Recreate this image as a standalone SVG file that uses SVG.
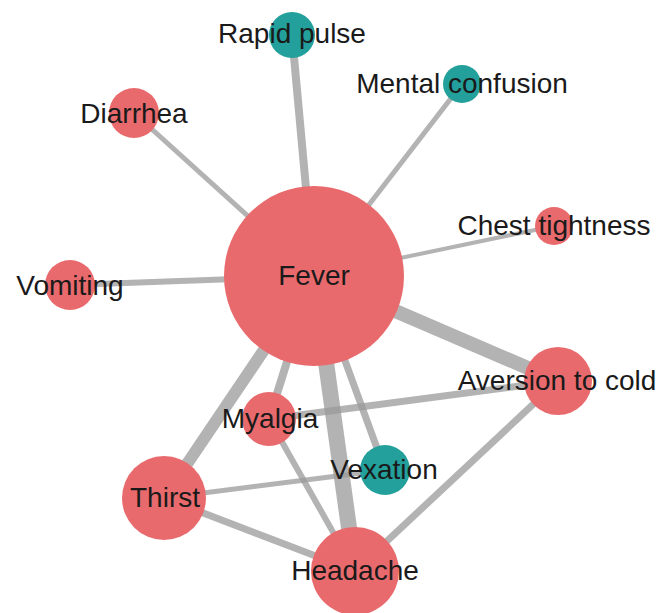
<svg xmlns="http://www.w3.org/2000/svg" width="660" height="613" viewBox="0 0 660 613">
<style>
.e{stroke:#9a9a9a;stroke-opacity:0.75;stroke-linecap:butt;fill:none}
.r{fill:#E96A6D}
.t{fill:#23A09B}
text{font-family:"Liberation Sans",Arial,sans-serif;font-size:28px;fill:#1a1a1a;text-anchor:middle}
</style>
<rect width="660" height="613" fill="#ffffff"/>
<g id="edges">
<line class="e" x1="314" y1="276" x2="292" y2="35" stroke-width="8"/>
<line class="e" x1="314" y1="276" x2="462" y2="84" stroke-width="5"/>
<line class="e" x1="314" y1="276" x2="134" y2="113" stroke-width="5"/>
<line class="e" x1="314" y1="276" x2="554" y2="226" stroke-width="4"/>
<line class="e" x1="314" y1="276" x2="70" y2="285" stroke-width="6"/>
<line class="e" x1="314" y1="276" x2="558" y2="381" stroke-width="14"/>
<line class="e" x1="314" y1="276" x2="164" y2="498" stroke-width="12"/>
<line class="e" x1="314" y1="276" x2="269" y2="419" stroke-width="8"/>
<line class="e" x1="314" y1="276" x2="355" y2="571" stroke-width="16"/>
<line class="e" x1="314" y1="276" x2="385" y2="470" stroke-width="7"/>
<line class="e" x1="269" y1="419" x2="558" y2="381" stroke-width="7"/>
<line class="e" x1="269" y1="419" x2="355" y2="571" stroke-width="6"/>
<line class="e" x1="164" y1="498" x2="385" y2="470" stroke-width="5"/>
<line class="e" x1="164" y1="498" x2="355" y2="571" stroke-width="7"/>
<line class="e" x1="558" y1="381" x2="355" y2="571" stroke-width="7"/>
</g>
<g id="fever"><circle class="r" cx="314" cy="276" r="90"/><text x="314" y="285">Fever</text></g>
<g id="rapid-pulse"><circle class="t" cx="292" cy="35" r="23"/><text x="292" y="43">Rapid pulse</text></g>
<g id="mental-confusion"><circle class="t" cx="462" cy="84" r="19"/><text x="462" y="93">Mental confusion</text></g>
<g id="diarrhea"><circle class="r" cx="134" cy="113" r="25"/><text x="134" y="123">Diarrhea</text></g>
<g id="chest-tightness"><circle class="r" cx="554" cy="226" r="19"/><text x="554" y="235">Chest tightness</text></g>
<g id="vomiting"><circle class="r" cx="70" cy="285" r="25"/><text x="70" y="295">Vomiting</text></g>
<g id="aversion-to-cold"><circle class="r" cx="558" cy="381" r="34"/><text x="557" y="390">Aversion to cold</text></g>
<g id="myalgia"><circle class="r" cx="269" cy="419" r="27"/><text x="270" y="428">Myalgia</text></g>
<g id="vexation"><circle class="t" cx="385" cy="470" r="25"/><text x="384" y="479">Vexation</text></g>
<g id="thirst"><circle class="r" cx="164" cy="498" r="42"/><text x="165" y="507">Thirst</text></g>
<g id="headache"><circle class="r" cx="355" cy="571" r="44"/><text x="355" y="580">Headache</text></g>
</svg>
